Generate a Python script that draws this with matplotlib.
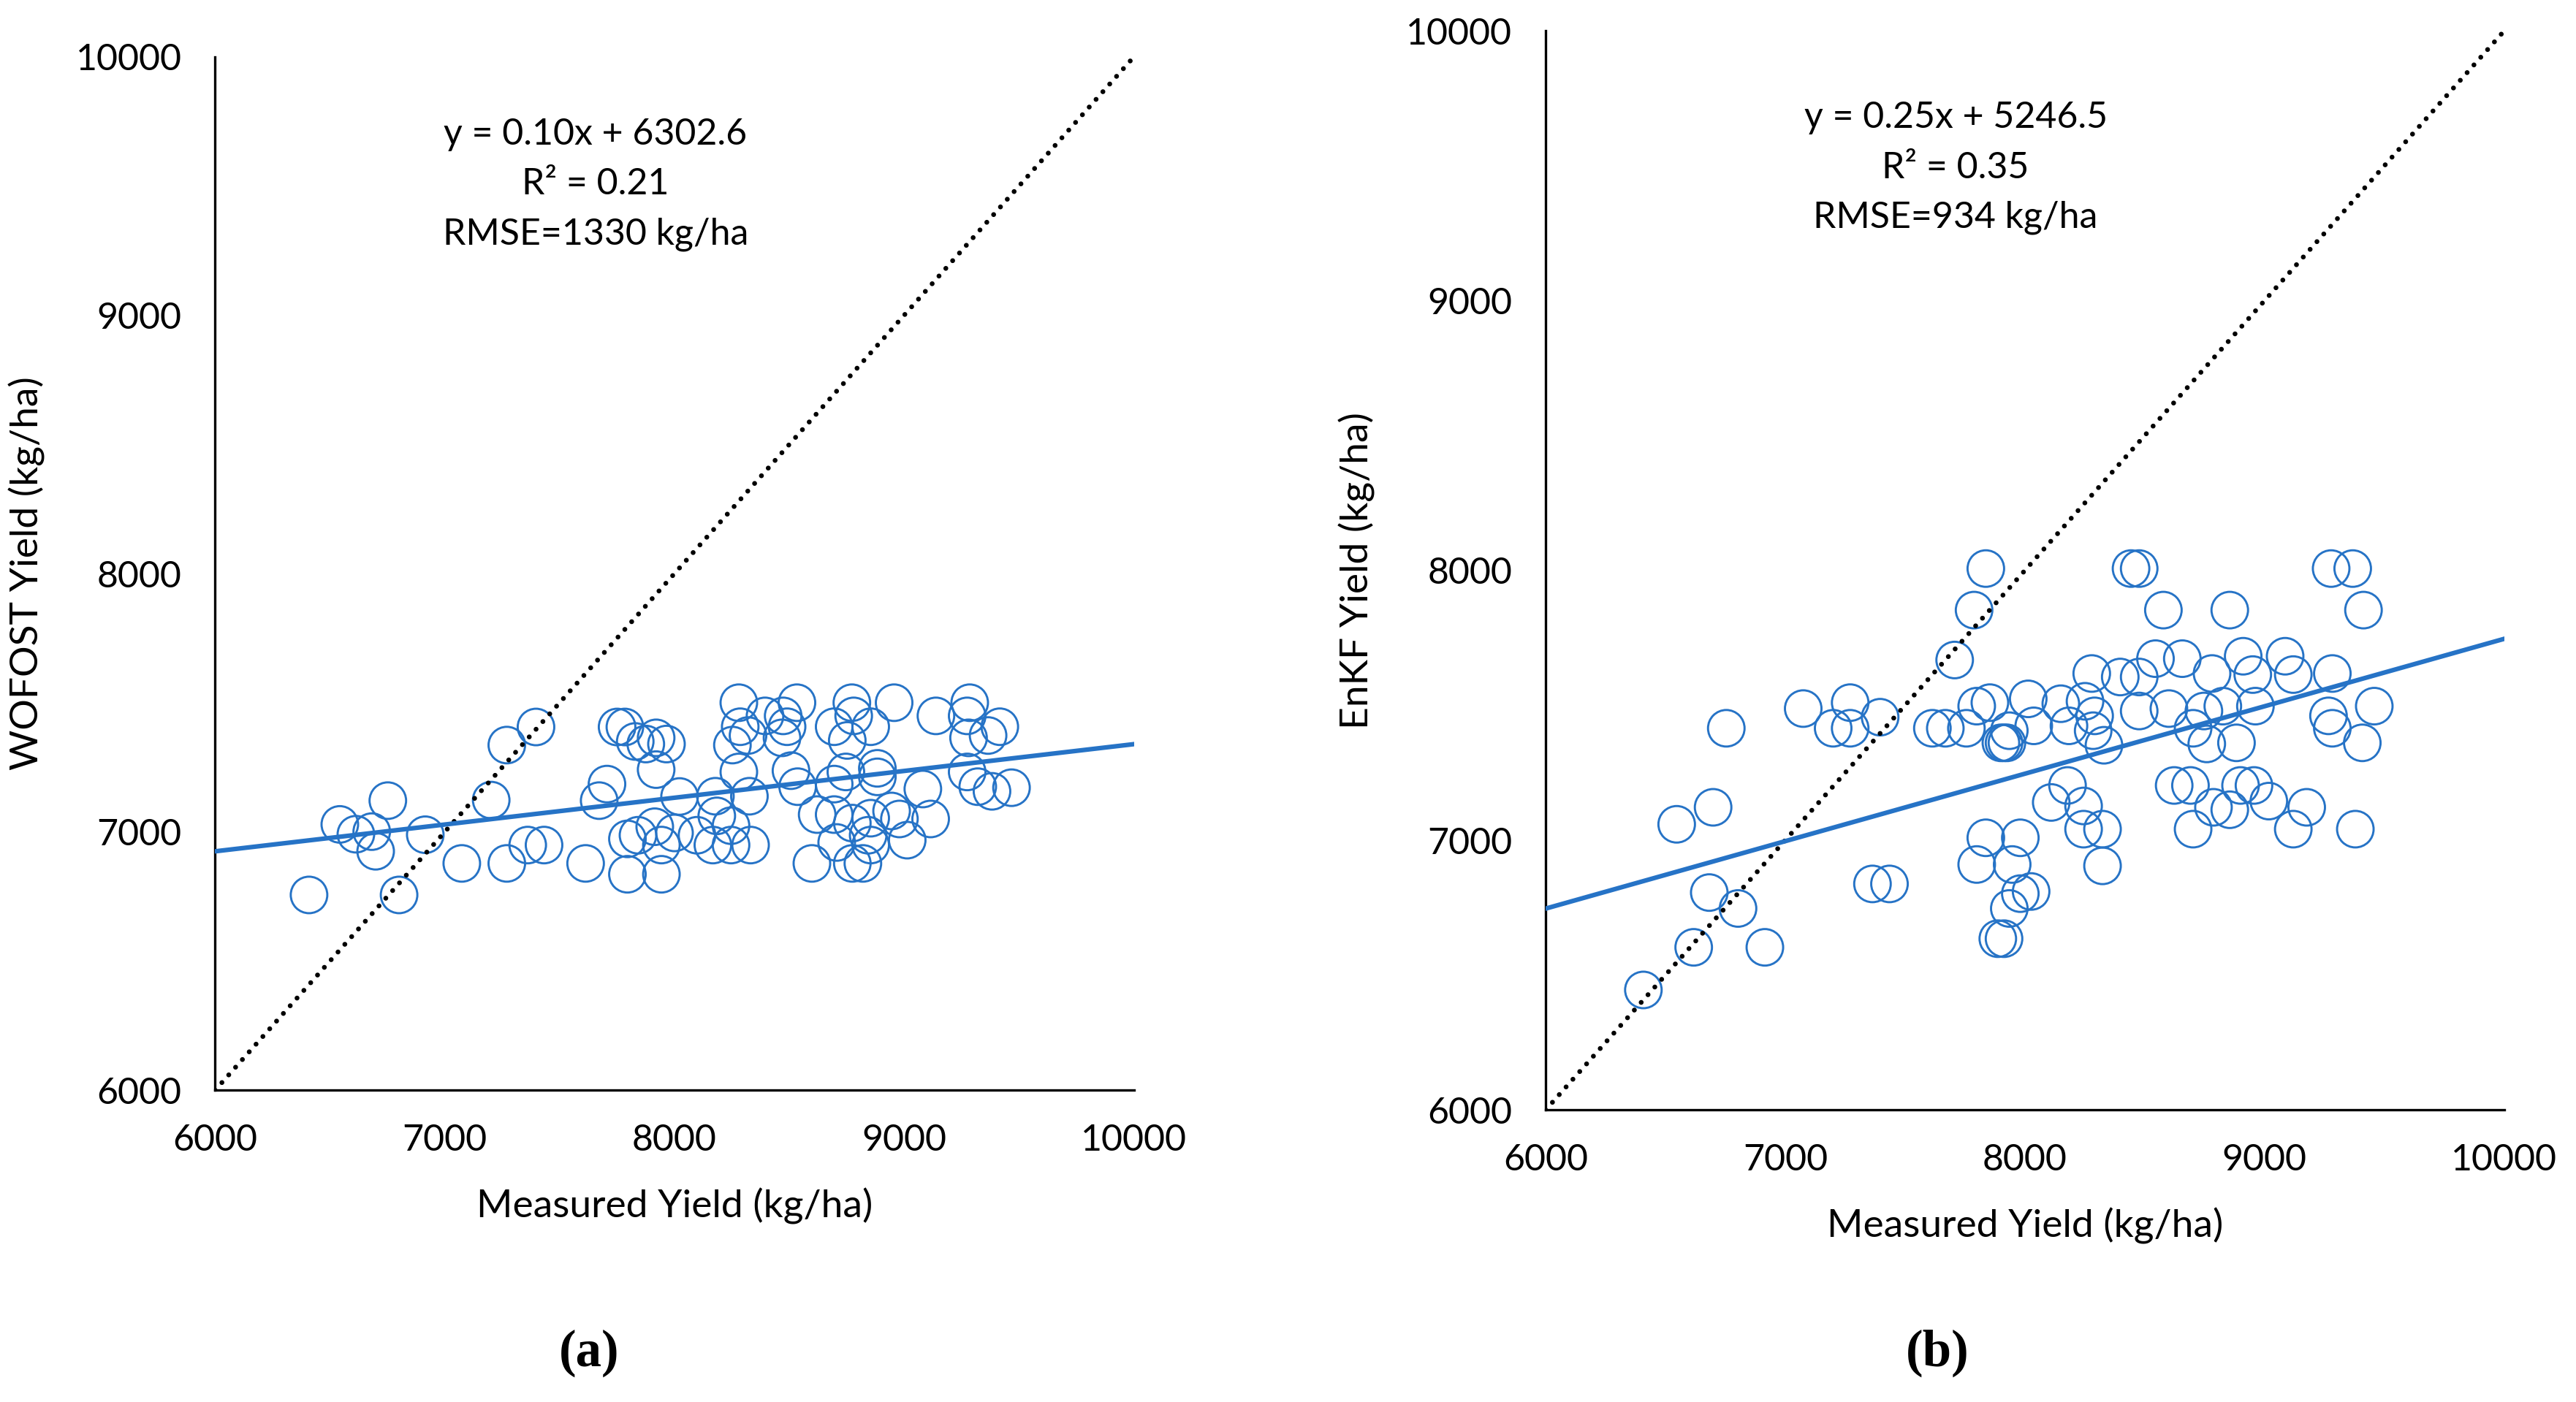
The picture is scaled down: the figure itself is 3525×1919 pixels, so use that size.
import numpy as np
import matplotlib
matplotlib.use("Agg")
import matplotlib.pyplot as plt
from matplotlib.ticker import FixedLocator

plt.rcParams.update({
    "font.family": ["Lato", "DejaVu Sans"], "font.size": 12,
    "axes.spines.top": False, "axes.spines.right": False,
})

# ---- panel (a): WOFOST vs measured ----
a_measured = [6409, 6543, 6613, 6682, 6699, 6752, 6801, 6915, 7074, 7202, 7270, 7397, 7270,
              7361, 7432, 7613, 7706, 7672, 7750, 7784, 7829, 7875, 7920, 7965, 7920, 7795,
              7795, 7841, 7914, 7943, 7943, 8000, 8022,
              8280, 8533, 8772, 8956, 9285, 8394, 8286, 8473, 8490, 8695, 8780, 8854, 9138,
              9274, 9416, 8252, 8320, 8468, 8752, 9280, 9365, 8280, 8507, 8746, 8883, 8883,
              9081, 9274, 9320, 9382, 9467, 8178, 8326, 8536, 8695, 8184, 8246, 8167, 8246,
              8331, 8098, 8621, 8695, 8774, 8854, 8945, 8979, 9115, 9013, 8706, 8843, 8598,
              8774, 8820, 8854]
a_wofost = [6756, 7029, 6991, 7001, 6925, 7121, 6756, 6989, 6878, 7123, 7336, 7406, 6878,
            6949, 6949, 6878, 7185, 7121, 7406, 7406, 7350, 7340, 7364, 7340, 7241, 6836,
            6973, 6987, 7020, 6836, 6949, 6996, 7137,
            7500, 7500, 7500, 7500, 7500, 7449, 7407, 7449, 7407, 7407, 7449, 7407, 7449,
            7449, 7407, 7336, 7373, 7364, 7354, 7364, 7373, 7232, 7237, 7232, 7246, 7213,
            7166, 7232, 7175, 7157, 7171, 7138, 7138, 7175, 7185, 7062, 7024, 6949, 6949,
            6949, 6987, 7067, 7067, 7034, 7053, 7081, 7050, 7050, 6968, 6959, 6987, 6878,
            6878, 6878, 6949]
a_trend = (0.1037, 6302.6)
a_text = "y = 0.10x + 6302.6\nR² = 0.21\nRMSE=1330 kg/ha"

# ---- panel (b): EnKF vs measured ----
b_measured = [6754, 7075, 7271, 7200, 7271, 7396, 7614, 7668, 7756, 7799, 7854, 7707, 7788, 7837,
              6547, 6699, 6683, 6803, 6618, 6915, 6408, 7364, 7435, 7837, 7799, 7887,
              8443, 8477, 9278, 9368, 8578, 8855, 9413, 8545, 8657, 8911, 9086, 8279, 8398,
              8477, 8781, 8951, 9120, 9283, 8014, 8150, 8251, 7935, 7900, 7913, 7925, 8037,
              8184, 8291, 8285, 8330, 8477, 8601, 8747, 8826, 8962, 8702, 8759, 8883, 9267,
              9283, 9458, 9408,
              8178, 8110, 8245, 8245, 8324, 8324, 7981, 7947, 7981, 8026, 7935, 7913, 8623,
              8691, 8900, 8956, 8787, 8855, 9018, 9176, 8702, 9120, 9379]
b_enkf = [7415, 7488, 7510, 7415, 7415, 7456, 7415, 7415, 7415, 7497, 7510, 7668, 7853, 8007,
          7059, 7122, 6806, 6747, 6603, 6603, 6445, 6838, 6838, 7009, 6910, 6635,
          8007, 8007, 8007, 8007, 7853, 7853, 7853, 7673, 7673, 7682, 7682, 7618, 7605,
          7605, 7618, 7614, 7614, 7618, 7524, 7506, 7515, 7406, 7361, 7361, 7361, 7424,
          7424, 7461, 7406, 7352, 7479, 7488, 7479, 7497, 7497, 7415, 7357, 7361, 7461,
          7415, 7497, 7361,
          7203, 7140, 7127, 7041, 7041, 6905, 7009, 6910, 6802, 6810, 6747, 6635, 7203,
          7203, 7203, 7203, 7122, 7113, 7145, 7122, 7041, 7041, 7041]
b_trend = (0.25, 5246.5)
b_text = "y = 0.25x + 5246.5\nR² = 0.35\nRMSE=934 kg/ha"

LIM = [6000, 10000]
TICKS = [6000, 7000, 8000, 9000, 10000]
BLUE = "#2673C6"

fig = plt.figure(figsize=(11.75, 6.3967), dpi=300)
ax_a = fig.add_axes([0.08349, 0.22235, 0.35671, 0.73716])
ax_b = fig.add_axes([0.60000, 0.20828, 0.37211, 0.76967])

panels = [
    (ax_a, a_measured, a_wofost, a_trend, a_text, "WOFOST Yield (kg/ha)", (7656, 9507)),
    (ax_b, b_measured, b_enkf, b_trend, b_text, "EnKF Yield (kg/ha)", (7711, 9492)),
]

for ax, xs, ys, (slope, icpt), txt, ylab, txt_pos in panels:
    ax.scatter(xs, ys, s=12**2, facecolors="none", edgecolors=BLUE, linewidths=0.7, zorder=2)
    # 1:1 line
    ax.plot(LIM, LIM, color="black", lw=1.6, linestyle=(0, (0.01, 2.1)),
            dash_capstyle="round", zorder=3)
    # linear trendline
    xl = np.array(LIM, dtype=float)
    ax.plot(xl, slope * xl + icpt, color=BLUE, lw=1.5, zorder=4)

    ax.set_xlim(LIM); ax.set_ylim(LIM)
    ax.set_xticks(TICKS); ax.set_yticks(TICKS)
    ax.tick_params(which="major", length=0, pad=11, labelsize=12)
    ax.xaxis.set_minor_locator(FixedLocator([10000]))
    ax.yaxis.set_minor_locator(FixedLocator([10000]))
    ax.tick_params(which="minor", direction="in", length=4, width=0.8)
    for sp in ("left", "bottom"):
        ax.spines[sp].set_linewidth(0.8)

    ax.set_xlabel("Measured Yield (kg/ha)", fontsize=12.8, labelpad=10)
    ax.set_ylabel(ylab, fontsize=12.8, labelpad=10)
    ax.text(txt_pos[0], txt_pos[1], txt, ha="center", va="center", multialignment="center",
            fontsize=12, linespacing=1.6)

fig.text(806 / 3525, 1 - 1852 / 1919, "(a)", ha="center", va="center", fontsize=17,
         fontweight="bold", family="Liberation Serif")
fig.text(2651 / 3525, 1 - 1852 / 1919, "(b)", ha="center", va="center", fontsize=17,
         fontweight="bold", family="Liberation Serif")

fig.savefig("out.png", dpi=300)
